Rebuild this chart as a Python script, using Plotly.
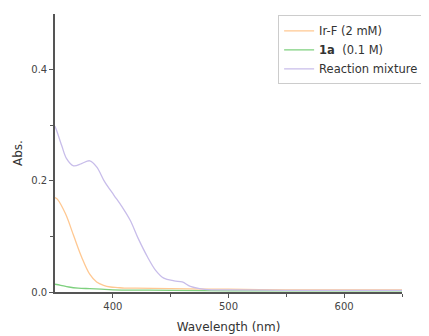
import plotly.graph_objects as go

# Wavelength samples (nm)
wl_mix = [350, 352, 356, 360, 366, 373, 380, 386, 393, 401, 408, 415, 422, 430, 437, 444, 453, 460, 467, 475, 485, 500, 550, 600, 650]
abs_mix = [0.298, 0.287, 0.262, 0.240, 0.227, 0.231, 0.236, 0.225, 0.198, 0.174, 0.153, 0.129, 0.096, 0.063, 0.039, 0.025, 0.020, 0.018, 0.010, 0.006, 0.004, 0.004, 0.003, 0.003, 0.003]

wl_irf = [350, 352, 359, 366, 373, 380, 386, 392, 398, 404, 410, 420, 450, 500, 550, 600, 650]
abs_irf = [0.170, 0.167, 0.141, 0.102, 0.063, 0.032, 0.018, 0.012, 0.009, 0.008, 0.007, 0.007, 0.006, 0.005, 0.004, 0.004, 0.004]

wl_1a = [350, 355, 362, 370, 380, 390, 400, 450, 500, 550, 600, 650]
abs_1a = [0.014, 0.012, 0.009, 0.007, 0.006, 0.005, 0.004, 0.003, 0.002, 0.002, 0.002, 0.002]

series_names = ["Ir-F (2 mM)", "<b>1a</b>  (0.1 M)", "Reaction mixture"]
series_colors = ["#FFC892", "#7ED07E", "#C8BDEA"]

x_ticks = [400, 500, 600]
y_ticks = [0.0, 0.2, 0.4]
y_tick_labels = ["0.0", "0.2", "0.4"]

fig = go.Figure()
for wl, ab, name, col in [
    (wl_irf, abs_irf, series_names[0], series_colors[0]),
    (wl_1a, abs_1a, series_names[1], series_colors[1]),
    (wl_mix, abs_mix, series_names[2], series_colors[2]),
]:
    fig.add_trace(go.Scatter(x=wl, y=ab, name=name, mode="lines",
                             line=dict(color=col, width=1.3, shape="spline", smoothing=1.0)))

FONT = "DejaVu Sans, Liberation Sans, Arial, sans-serif"
axis_font = dict(family=FONT, size=10, color="#444444")
title_font = dict(family=FONT, size=12, color="#333333")

fig.update_layout(
    width=429, height=336,
    margin=dict(l=47, r=35, t=6, b=52, autoexpand=False),
    plot_bgcolor="white", paper_bgcolor="white",
    font=dict(family=FONT, size=12, color="#333333"),
    showlegend=True,
    legend=dict(x=0.643, y=0.995, xanchor="left", yanchor="top",
                bordercolor="#cccccc", borderwidth=1, bgcolor="white",
                font=dict(family=FONT, size=11.5, color="#333333"), tracegroupgap=0,
                itemwidth=30),
    xaxis=dict(range=[350, 650], showgrid=False, zeroline=False, automargin=False,
               showline=True, linecolor="#555555", linewidth=1.6,
               ticks="outside", ticklen=4, tickcolor="#555555",
               tickvals=x_ticks, tickfont=axis_font,
               minor=dict(tickvals=[450, 550, 650], ticks="outside", ticklen=3, tickcolor="#555555"),
               title=dict(text="Wavelength (nm)", font=title_font, standoff=12)),
    yaxis=dict(range=[0, 0.5], showgrid=False, zeroline=False, automargin=False,
               showline=True, linecolor="#555555", linewidth=1.6,
               ticks="outside", ticklen=4, tickcolor="#555555",
               tickvals=y_ticks, ticktext=y_tick_labels, tickfont=axis_font,
               minor=dict(tickvals=[0.1, 0.3], ticks="outside", ticklen=3, tickcolor="#555555"),
               title=dict(text="Abs.", font=title_font, standoff=6)),
)

fig.write_html("out.html")
